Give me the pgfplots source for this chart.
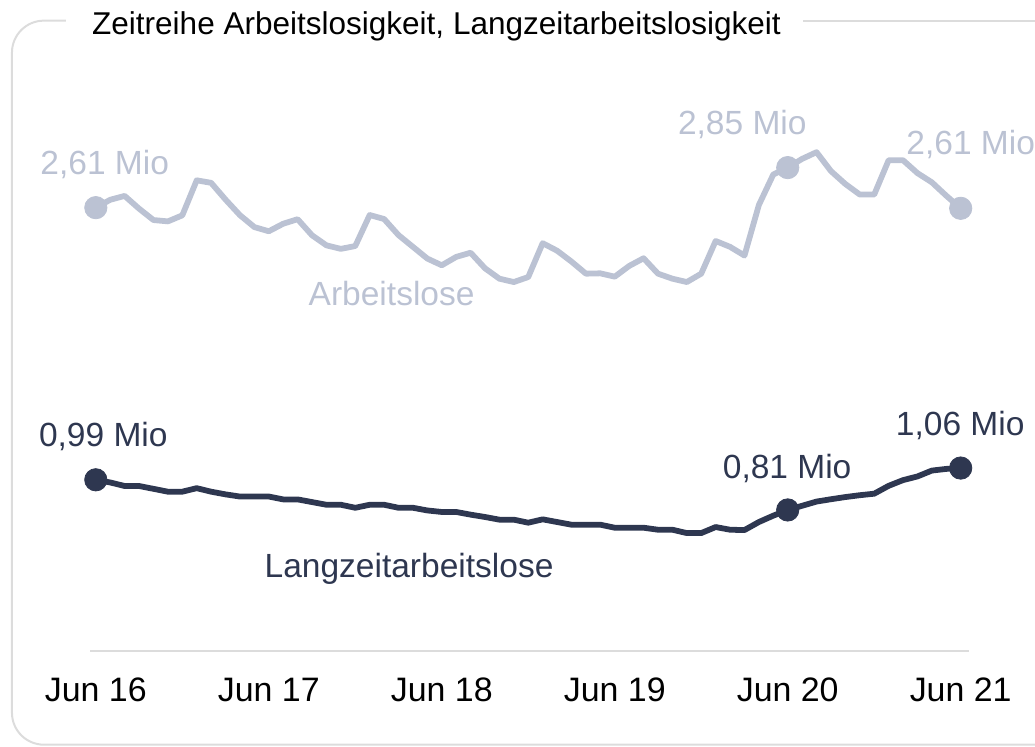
\documentclass[border=0pt]{standalone}
\usepackage{fontspec}
\setmainfont{Liberation Sans}
\usepackage{pgfplots}
\usepackage{pgfplotstable}
\pgfplotsset{compat=1.18}

\definecolor{alo}{HTML}{BBC2D3}
\definecolor{lzalo}{HTML}{2E3750}
\definecolor{rahmen}{HTML}{DCDCDC}

% Monat (0 = Jun 16), Arbeitslose, Langzeitarbeitslose (Mio)
\pgfplotstableread{
m   alo    lz
0   2.614  0.990
1   2.661  0.974
2   2.684  0.953
3   2.608  0.953
4   2.540  0.936
5   2.532  0.919
6   2.568  0.919
7   2.777  0.940
8   2.762  0.919
9   2.662  0.903
10  2.569  0.890
11  2.498  0.890
12  2.473  0.890
13  2.518  0.873
14  2.545  0.873
15  2.449  0.857
16  2.389  0.841
17  2.368  0.841
18  2.385  0.823
19  2.570  0.841
20  2.546  0.841
21  2.450  0.823
22  2.380  0.823
23  2.310  0.807
24  2.270  0.798
25  2.320  0.798
26  2.345  0.782
27  2.252  0.768
28  2.190  0.752
29  2.170  0.752
30  2.200  0.734
31  2.402  0.754
32  2.357  0.738
33  2.292  0.722
34  2.220  0.722
35  2.222  0.722
36  2.202  0.704
37  2.266  0.704
38  2.312  0.704
39  2.220  0.692
40  2.190  0.692
41  2.170  0.672
42  2.220  0.672
43  2.415  0.708
44  2.380  0.692
45  2.328  0.690
46  2.630  0.738
47  2.812  0.776
48  2.853  0.810
49  2.905  0.835
50  2.945  0.860
51  2.832  0.874
52  2.755  0.887
53  2.692  0.898
54  2.692  0.907
55  2.897  0.954
56  2.897  0.988
57  2.820  1.010
58  2.765  1.045
59  2.685  1.055
60  2.610  1.060
}\daten

\begin{document}
\begin{tikzpicture}
\begin{scope}[x=0.5bp,y=-0.5bp]
  \useasboundingbox (0,0) rectangle (1035,748);
  % Rahmen mit Titel
  \draw[rahmen, line width=1bp, rounded corners=16bp]
    (66,20.7) -- (12,20.7) -- (12,746.5) -- (1080,746.5);
  \draw[rahmen, line width=1bp] (805,20.7) -- (1080,20.7);
  \node[anchor=base west, inner sep=0pt, font=\fontsize{15.8bp}{18bp}\selectfont]
    at (92,35) {Zeitreihe Arbeitslosigkeit, Langzeitarbeitslosigkeit};
\end{scope}

\begin{axis}[
    at={(45.35bp,-326.15bp)},
    anchor=south west,
    scale only axis,
    width=440.5bp,
    height=254.5bp,
    xmin=-0.37, xmax=60.6,
    ymin=-0.03, ymax=3.0,
    clip=false,
    axis x line*=bottom,
    hide y axis,
    x axis line style={draw=rahmen, line width=1bp},
    xtick={0,12,24,36,48,60},
    xticklabels={Jun 16,Jun 17,Jun 18,Jun 19,Jun 20,Jun 21},
    major tick length=0pt,
    xticklabel style={font=\fontsize{17bp}{20bp}\selectfont, anchor=base,
      inner sep=0pt, yshift=-25.5bp},
    every axis plot/.append style={line join=round, line cap=round},
  ]
  \addplot[alo, line width=2.9bp] table[x=m, y=alo] {\daten};
  \addplot[lzalo, line width=2.9bp] table[x=m, y=lz] {\daten};

  \addplot[only marks, mark=*, mark size=5.6bp, color=alo]
    coordinates {(0,2.614) (48,2.853) (60,2.610)};
  \addplot[only marks, mark=*, mark size=5.6bp, color=lzalo]
    coordinates {(0,0.990) (48,0.810) (60,1.060)};

  \begin{scope}[every node/.style={inner sep=0pt, font=\fontsize{16.8bp}{19bp}\selectfont}]
    \node[alo, anchor=base] at (axis cs:0.62,2.811) {2,61 Mio};
    \node[alo, anchor=base] at (axis cs:44.85,3.050) {2,85 Mio};
    \node[alo, anchor=base west] at (axis cs:56.21,2.930) {2,61 Mio};
    \node[alo, anchor=base] at (axis cs:20.52,2.0275) {Arbeitslose};
    \node[lzalo, anchor=base] at (axis cs:0.52,1.186) {0,99 Mio};
    \node[lzalo, anchor=base] at (axis cs:47.96,0.996) {0,81 Mio};
    \node[lzalo, anchor=base] at (axis cs:59.97,1.254) {1,06 Mio};
    \node[lzalo, anchor=base] at (axis cs:21.73,0.405) {Langzeitarbeitslose};
  \end{scope}
\end{axis}
\end{tikzpicture}
\end{document}
